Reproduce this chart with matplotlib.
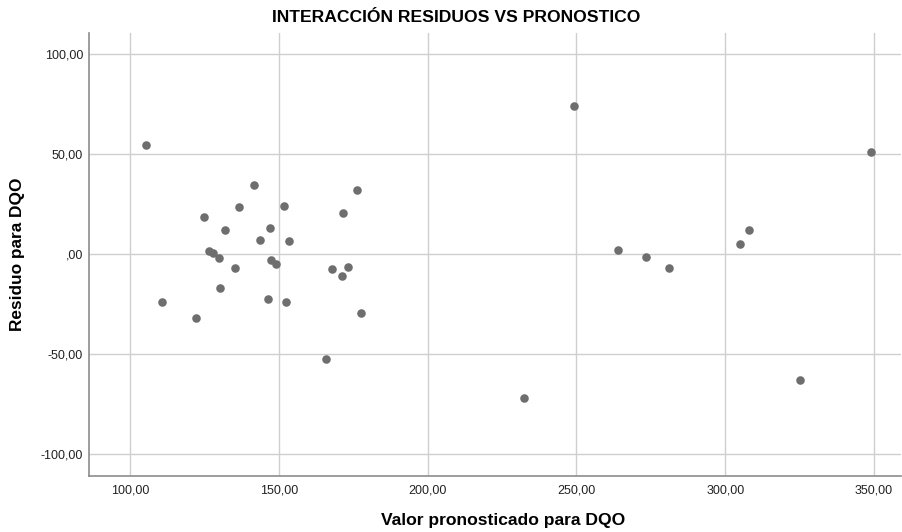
import matplotlib.pyplot as plt
from matplotlib.ticker import FuncFormatter

# valores (pronostico, residuo)
pronostico = [105.3, 141.5, 176.3, 136.6, 151.8, 124.7, 171.4, 131.9, 146.9,
              143.6, 153.5, 126.6, 127.7, 129.9, 147.2, 149.1, 135.2, 167.8,
              173.1, 171.1, 130.3, 110.7, 146.4, 152.3, 177.7, 122.2, 165.7,
              249.2, 349.1, 308.1, 305.0, 264.1, 273.5, 281.0, 325.2, 232.2]
residuo = [54.7, 34.5, 31.9, 23.5, 24.3, 18.5, 20.8, 12.2, 13.3,
           7.0, 6.7, 1.65, 0.5, -1.7, -3.0, -4.9, -7.0, -7.5,
           -6.5, -10.9, -17.0, -24.0, -22.2, -24.0, -29.5, -32.1, -52.4,
           73.9, 50.9, 11.9, 5.0, 2.0, -1.3, -6.9, -62.8, -72.0]

x_ticks = [100, 150, 200, 250, 300, 350]
y_ticks = [-100, -50, 0, 50, 100]

plt.rcParams['font.family'] = ['Liberation Sans', 'DejaVu Sans']

fig = plt.figure(figsize=(9.02, 5.32), dpi=100)
ax = fig.add_axes([88.7 / 902, 1 - 475.7 / 532, (901 - 88.7) / 902, (475.7 - 32.7) / 532])

ax.scatter(pronostico, residuo, s=38, color='#6e6e6e', zorder=3, linewidths=0)

ax.set_xlim(86.0, 359.1)
ax.set_ylim(-110.8, 110.8)
ax.set_xticks(x_ticks)
ax.set_yticks(y_ticks)

def fmt(v, pos):
    s = '%.2f' % v
    if v == 0:
        s = '.00'
    return s.replace('.', ',')

ax.xaxis.set_major_formatter(FuncFormatter(fmt))
ax.yaxis.set_major_formatter(FuncFormatter(fmt))

ax.grid(True, color='#cfcfcf', linewidth=1.0, zorder=0)
ax.set_axisbelow(True)
for side in ['top', 'right']:
    ax.spines[side].set_visible(False)
for side in ['left', 'bottom']:
    ax.spines[side].set_color('#8c8c8c')
    ax.spines[side].set_linewidth(1.2)
ax.tick_params(length=0, labelsize=9, labelcolor='#222222')
ax.tick_params(axis='y', pad=4)
ax.tick_params(axis='x', pad=6.5)

fig.text(456 / 902, 1 - 17 / 532, 'INTERACCIÓN RESIDUOS VS PRONOSTICO',
         ha='center', va='center', fontsize=12.6, fontweight='bold')
fig.text(503 / 902, 1 - 521 / 532, 'Valor pronosticado para DQO',
         ha='center', va='center', fontsize=12.6, fontweight='bold')
fig.text(18 / 902, 1 - 254 / 532, 'Residuo para DQO', rotation=90,
         ha='center', va='center', fontsize=12.4, fontweight='bold')

fig.savefig('out.png', dpi=100)
